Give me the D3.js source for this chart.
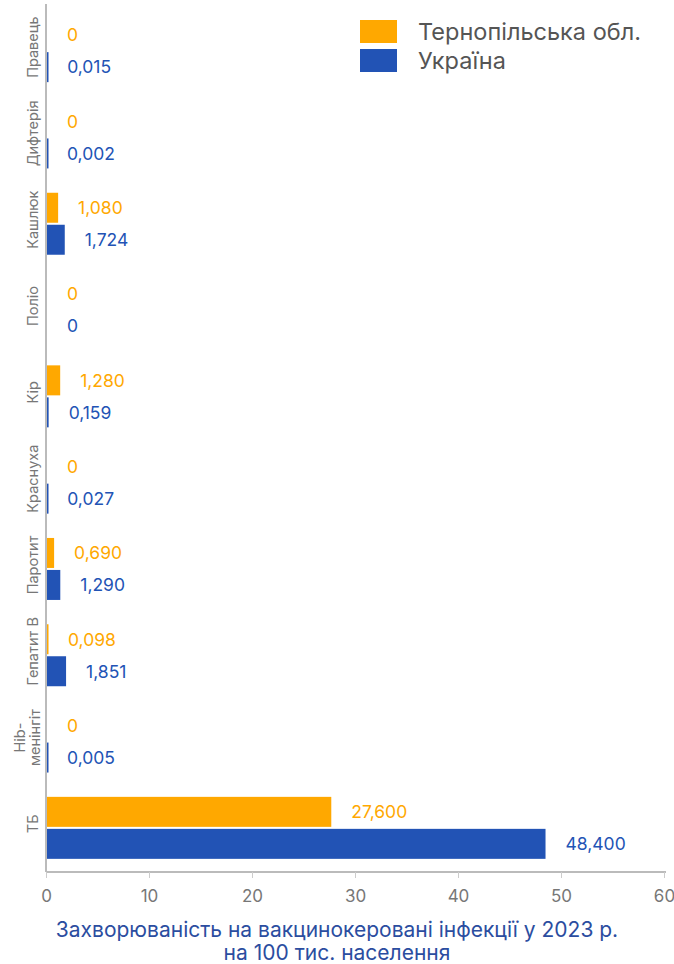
<!DOCTYPE html>
<html>
<head>
<meta charset="utf-8">
<script src="https://cdn.jsdelivr.net/npm/d3@7"></script>
<style>
  body { margin: 0; background: #fff; }
  svg { display: block; font-family: Inter, "Open Sans", sans-serif; }
</style>
</head>
<body>
<svg id="chart" width="674" height="964"></svg>
<script>
// ── data ─────────────────────────────────────────────
const categories = ['Правець', 'Дифтерія', 'Кашлюк', 'Поліо', 'Кір', 'Краснуха', 'Паротит', 'Гепатит В', 'Hib-\nменінгіт', 'ТБ'];
const ternopil = [0, 0, 1.080, 0, 1.280, 0, 0.690, 0.098, 0, 27.600];
const ukraine  = [0.015, 0.002, 1.724, 0, 0.159, 0.027, 1.290, 1.851, 0.005, 48.400];
const seriesNames = ['Тернопільська обл.', 'Україна'];
const seriesColors = ['#FFA800', '#2253B5'];
const xTicks = [0, 10, 20, 30, 40, 50, 60];

const W = 674, H = 964;
const svg = d3.select('#chart');

const x = d3.scaleLinear().domain([0, 60]).range([46, 664]);
const y = d3.scaleBand().domain(categories).range([8, 871]).paddingInner(0).paddingOuter(0);
const inner = d3.scaleBand().domain([0, 1]).range([0, y.bandwidth()]).paddingInner(0.0625).paddingOuter(0.38);

const fmt = v => v.toFixed(3).replace('.', ',');

const rows = categories.map((c, i) => ({ cat: c, vals: [ternopil[i], ukraine[i]] }));

const g = svg.append('g');
rows.forEach(r => {
  r.vals.forEach((v, s) => {
    const y0 = y(r.cat) + inner(s);
    const w = v > 0 ? Math.max(x(v) - x(0), 1.5) : 0;
    if (w > 0) {
      g.append('rect')
        .attr('x', x(0) + 1).attr('y', y0)
        .attr('width', w).attr('height', inner.bandwidth())
        .attr('fill', seriesColors[s]);
    }
    g.append('text')
      .attr('x', x(v) + 21)
      .attr('y', y0 + inner.bandwidth() / 2)
      .attr('dy', '0.36em')
      .attr('fill', seriesColors[s])
      .attr('font-size', 17.5)
      .text(v === 0 ? '0' : fmt(v));
  });
});

// category labels (rotated)
rows.forEach(r => {
  const cy = y(r.cat) + y.bandwidth() / 2 - 4;
  const lines = r.cat.split('\n');
  const t = svg.append('text')
    .attr('transform', `translate(33,${cy}) rotate(-90)`)
    .attr('text-anchor', 'middle')
    .attr('fill', '#777')
    .attr('font-size', 14.5);
  lines.forEach((l, k) => {
    t.append('tspan')
      .attr('x', 0)
      .attr('dy', k === 0 ? (lines.length > 1 ? '-0.55em' : '0.35em') : '1.05em')
      .text(l);
  });
});

// axes
svg.append('line')
  .attr('x1', 46).attr('x2', 46).attr('y1', 4).attr('y2', 872)
  .attr('stroke', '#bbb').attr('stroke-width', 2);

const xAxis = svg.append('g')
  .attr('transform', 'translate(0,872)')
  .call(d3.axisBottom(x).tickValues(xTicks).tickSize(6).tickPadding(12).tickFormat(d3.format('d')));
xAxis.select('.domain').attr('stroke', '#bbb').attr('stroke-width', 2)
  .attr('d', `M${x(0)},0H${x(60) + 2}`);
xAxis.selectAll('.tick line').attr('stroke', '#ccc');
xAxis.selectAll('.tick text').attr('fill', '#777').attr('font-size', 17)
  .attr('font-family', 'Inter, "Open Sans", sans-serif');

// legend
const lg = svg.append('g').attr('transform', 'translate(360,20)');
seriesNames.forEach((n, i) => {
  lg.append('rect').attr('x', 0).attr('y', i * 29).attr('width', 37).attr('height', 23).attr('fill', seriesColors[i]);
  lg.append('text').attr('x', 58).attr('y', i * 29 + 12).attr('dy', '0.36em')
    .attr('fill', '#555').attr('font-size', 23.5).text(n);
});

// title
const title = svg.append('text')
  .attr('x', W / 2).attr('y', 937)
  .attr('text-anchor', 'middle')
  .attr('fill', '#2B4DA0').attr('font-size', 21);
title.append('tspan').attr('x', W / 2).text('Захворюваність на вакцинокеровані інфекції у 2023 р.');
title.append('tspan').attr('x', W / 2).attr('dy', 23).text('на 100 тис. населення');
</script>
</body>
</html>
